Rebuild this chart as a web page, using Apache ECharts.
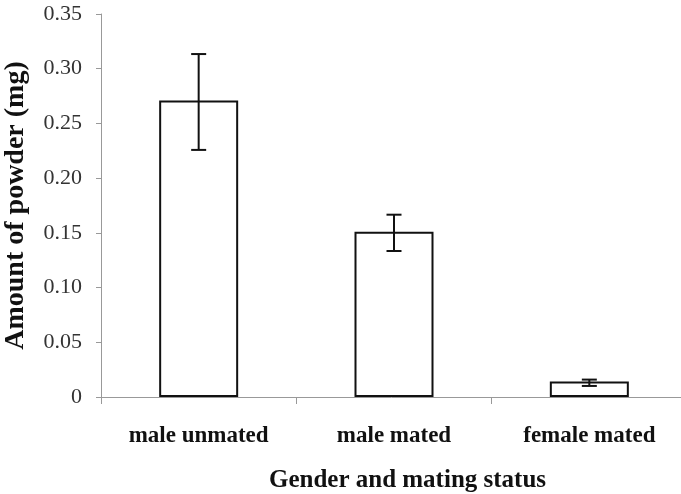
<!DOCTYPE html>
<html>
<head>
<meta charset="utf-8">
<script src="https://cdn.jsdelivr.net/npm/echarts@6/dist/echarts.min.js"></script>
<style>
html,body{margin:0;padding:0;background:#fff;}
#chart{width:681px;height:494px;}
</style>
</head>
<body>
<div id="chart"></div>
<script>
const categories = ['male unmated', 'male mated', 'female mated'];
const meanValues = [0.271, 0.151, 0.0141];
const errUpper = [0.3134, 0.1666, 0.0159];
const errLower = [0.2258, 0.1334, 0.0101];
const yTicks = ['0', '0.05', '0.10', '0.15', '0.20', '0.25', '0.30', '0.35'];

const serif = '"Liberation Serif", "Times New Roman", serif';
const chart = echarts.init(document.getElementById('chart'), null, {renderer: 'canvas'});

const errData = categories.map((c, i) => [i, errLower[i], errUpper[i]]);

chart.setOption({
  backgroundColor: '#fff',
  animation: false,
  grid: {left: 101, top: 14, right: -6, bottom: 97, containLabel: false, outerBoundsMode: 'none'},
  xAxis: {
    type: 'category',
    data: categories,
    boundaryGap: true,
    axisLine: {show: true, lineStyle: {color: '#999', width: 1}},
    axisTick: {show: true, length: 7, lineStyle: {color: '#999', width: 1}},
    axisLabel: {color: '#111', fontFamily: serif, fontWeight: 'bold', fontSize: 23, margin: 28},
    name: 'Gender and mating status',
    nameLocation: 'middle',
    nameGap: 71,
    nameTextStyle: {color: '#111', fontFamily: serif, fontWeight: 'bold', fontSize: 25, padding: [0, 0, 0, 27]}
  },
  yAxis: {
    type: 'value',
    min: 0,
    max: 0.35,
    interval: 0.05,
    axisLine: {show: true, lineStyle: {color: '#999', width: 1}},
    axisTick: {show: true, length: 5, lineStyle: {color: '#999', width: 1}},
    splitLine: {show: false},
    axisLabel: {
      color: '#333', fontFamily: serif, fontSize: 22, margin: 19, padding: [5, 0, 0, 0],
      formatter: function (v) { return yTicks[Math.round(v / 0.05)]; }
    },
    name: 'Amount of powder (mg)',
    nameLocation: 'middle',
    nameRotate: 90,
    nameGap: 71,
    nameTextStyle: {color: '#111', fontFamily: serif, fontWeight: 'bold', fontSize: 28}
  },
  series: [
    {
      type: 'bar',
      data: meanValues,
      barWidth: 79,
      itemStyle: {color: '#fff', borderColor: '#111', borderWidth: 2}
    },
    {
      type: 'custom',
      data: errData,
      z: 10,
      renderItem: function (params, api) {
        const x = api.value(0);
        const lo = api.coord([x, api.value(1)]);
        const hi = api.coord([x, api.value(2)]);
        const hw = 7.5;
        const style = {stroke: '#111', lineWidth: 2};
        return {
          type: 'group',
          children: [
            {type: 'line', shape: {x1: hi[0], y1: hi[1], x2: lo[0], y2: lo[1]}, style: style},
            {type: 'line', shape: {x1: hi[0] - hw, y1: hi[1], x2: hi[0] + hw, y2: hi[1]}, style: style},
            {type: 'line', shape: {x1: lo[0] - hw, y1: lo[1], x2: lo[0] + hw, y2: lo[1]}, style: style}
          ]
        };
      }
    }
  ]
});
</script>
</body>
</html>
